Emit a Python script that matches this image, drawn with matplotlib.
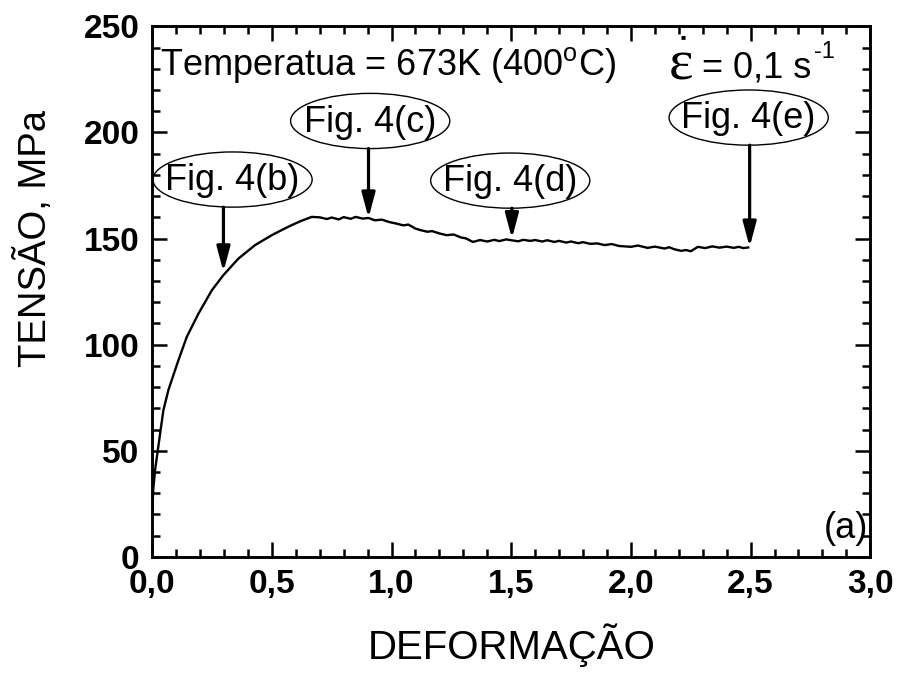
#!/usr/bin/env python3
"""Stress-strain curve, 673 K, 0.1 s^-1."""

import matplotlib
matplotlib.use("Agg")
import matplotlib.pyplot as plt
from matplotlib.patches import Ellipse

plt.rcParams["font.family"] = ["Liberation Sans", "DejaVu Sans"]
plt.rcParams["mathtext.fontset"] = "custom"
plt.rcParams["mathtext.rm"] = "Liberation Sans"
plt.rcParams["mathtext.default"] = "regular"

# curve
strain = [0.0, 0.005, 0.0125, 0.026, 0.047, 0.068, 0.09, 0.11, 0.145, 0.194,
          0.25, 0.298, 0.361, 0.43, 0.5, 0.55, 0.583, 0.62, 0.667, 0.70, 0.73,
          0.75, 0.78, 0.80, 0.83, 0.85, 0.88, 0.904, 0.93, 0.96, 0.99, 1.022,
          1.05, 1.07, 1.10, 1.12, 1.15, 1.17, 1.20, 1.23, 1.26, 1.29, 1.31,
          1.34, 1.37, 1.40, 1.43, 1.45, 1.48, 1.50, 1.53, 1.55, 1.58, 1.60,
          1.63, 1.65, 1.68, 1.70, 1.73, 1.75, 1.78, 1.80, 1.83, 1.86, 1.89,
          1.92, 1.95, 2.0, 2.03, 2.07, 2.10, 2.14, 2.16, 2.18, 2.21, 2.23,
          2.25, 2.28, 2.31, 2.34, 2.37, 2.40, 2.43, 2.45, 2.47, 2.49]
stress = [20, 32, 41, 52, 69, 78.6, 86, 92.7, 103.7, 114.7,
          125.7, 132.8, 140.6, 146.9, 151.6, 154.5, 156.3, 158.2, 160.2, 160.0, 159.2,
          159.9, 159.0, 160.1, 159.3, 160.2, 159.4, 159.7, 158.6, 158.9, 157.8, 157.0,
          156.2, 156.6, 154.7, 154.0, 153.2, 153.5, 152.4, 151.6, 151.9, 150.5, 150.1,
          148.4, 149.3, 148.6, 149.4, 148.8, 149.6, 149.2, 148.7, 149.4, 148.9, 149.3,
          148.6, 149.2, 148.4, 148.9, 148.1, 148.6, 147.8, 148.3, 147.5, 147.7, 146.9,
          147.4, 146.5, 146.1, 146.7, 145.6, 146.2, 145.3, 145.9, 145.0, 144.2, 144.6,
          144.0, 146.1, 145.5, 146.3, 145.7, 146.2, 145.6, 146.1, 145.5, 145.8]

# labels and where their arrows point
fig_labels = ["Fig. 4(b)", "Fig. 4(c)", "Fig. 4(d)", "Fig. 4(e)"]
arrow_x = [0.298, 0.904, 1.503, 2.496]
arrow_tip = [134.3, 159.7, 150.0, 146.0]
arrow_start = [164.8, 192.4, 164.3, 194.0]
ellipse_x = [0.336, 0.911, 1.496, 2.492]
ellipse_y = [177.8, 205.4, 177.3, 207.0]

fig = plt.figure(figsize=(9, 6.75), dpi=100)
ax = fig.add_axes([0.169, 0.175, 0.798, 0.786])

ax.plot(strain, stress, color="black", linewidth=1.7)

for lab, xa, tip, st, ex, ey in zip(fig_labels, arrow_x, arrow_tip,
                                     arrow_start, ellipse_x, ellipse_y):
    ax.add_patch(Ellipse((ex, ey), 0.665, 26.0, fill=False,
                         edgecolor="black", linewidth=1.0))
    ax.text(ex, ey - 0.5, lab, ha="center", va="center", fontsize=26)
    ax.annotate("", xy=(xa, tip), xytext=(xa, st),
                arrowprops=dict(arrowstyle="-|>,head_length=1.5,head_width=0.4",
                                color="black", linewidth=2.3,
                                shrinkA=0, shrinkB=0))

yt = ax.get_yaxis_transform()
ax.text(0.011, 227, "Temperatua = 673K (400$^{o}$C)", fontsize=26,
        transform=yt, va="baseline")
# strain rate: epsilon with a square dot above it
ax.text(0.719, 225, "\u03b5", fontsize=42, family="Liberation Serif",
        transform=yt, va="baseline")
ax.text(0.739, 244.8, "\u25a0", fontsize=6, transform=yt,
        ha="center", va="center")
ax.text(0.765, 226, "= 0,1 s", fontsize=26, transform=yt, va="baseline")
ax.text(0.921, 235, "-1", fontsize=17, transform=yt, va="baseline")
ax.text(0.997, 0.02, "(a)", fontsize=26, ha="right", va="bottom",
        transform=ax.transAxes)

ax.set_xlim(0, 3.0)
ax.set_ylim(0, 250)
ax.set_xticks([0, 0.5, 1.0, 1.5, 2.0, 2.5, 3.0])
ax.set_xticklabels(["0,0", "0,5", "1,0", "1,5", "2,0", "2,5", "3,0"])
ax.set_yticks([0, 50, 100, 150, 200, 250])
ax.set_xticks([i * 0.1 for i in range(31)], minor=True)
ax.set_yticks(list(range(0, 251, 10)), minor=True)
ax.tick_params(which="both", direction="in", top=True, right=True,
               width=1.8, labelsize=24)
ax.tick_params(which="major", length=11, pad=9)
ax.tick_params(which="minor", length=6)
for lab in ax.get_xticklabels() + ax.get_yticklabels():
    lab.set_fontweight("bold")
for sp in ax.spines.values():
    sp.set_linewidth(2.1)

ax.set_xlabel("DEFORMA\u00c7\u00c3O", fontsize=29)
ax.set_ylabel("TENS\u00c3O, MPa", fontsize=27.5)
ax.xaxis.set_label_coords(0.501, -0.125)
ax.yaxis.set_label_coords(-0.136, 0.60)

fig.savefig("out.png", dpi=100)
